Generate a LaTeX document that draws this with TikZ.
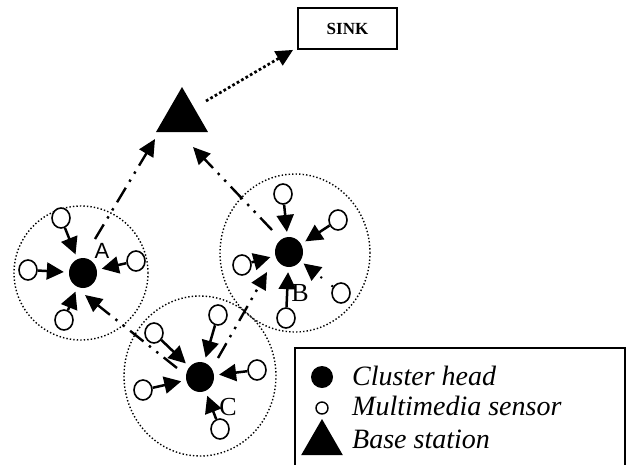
\documentclass[tikz,border=0pt]{standalone}
\usepackage{fontspec}
\setmainfont{Liberation Serif}
\newfontfamily\labsans{Liberation Sans}
\usetikzlibrary{arrows.meta,shapes.geometric,calc}
\begin{document}
\begin{tikzpicture}[x=1pt,y=-1pt,
 cluster/.style={draw, ellipse, line width=1.4pt, dash pattern=on 1.4pt off 2.1pt, inner sep=0pt, outer sep=0pt},
 head/.style={ellipse, fill=black, minimum width=28pt, minimum height=30pt, inner sep=0pt},
 sensor/.style={ellipse, draw, fill=white, line width=1.6pt, minimum width=18pt, minimum height=20pt, inner sep=0pt},
 sarrow/.style={line width=2.5pt, -{Triangle[length=17pt,width=17pt]}, shorten >=5pt},
 sdotarrow/.style={line width=2pt, dash pattern=on 2pt off 12pt, -{Triangle[length=17pt,width=17pt]}, shorten >=4pt},
 ddash/.style={line width=2.4pt, dash pattern=on 17pt off 7pt on 2.4pt off 7pt on 2.4pt off 7pt, -{Triangle[length=17pt,width=16pt]}},
 bstri/.style={regular polygon, regular polygon sides=3, fill=black, inner sep=0pt, outer sep=0pt},
 lbl/.style={font=\fontsize{26}{28}\selectfont, inner sep=0pt, anchor=base},
 legtext/.style={anchor=base west, font=\itshape\fontsize{28}{30}\selectfont, inner sep=0pt},
 ]
\path[use as bounding box] (0,0) rectangle (628,464);

% clusters
\node[cluster, minimum width=134pt, minimum height=134pt] (cA) at (81,273) {};
\node[cluster, minimum width=150pt, minimum height=158pt] (cB) at (295,253) {};
\node[cluster, minimum width=152pt, minimum height=160pt] (cC) at (200,376) {};

% base station and sink
\node[bstri, minimum size=60pt] (BS) at (182,117) {};
\node[draw, line width=1.8pt, minimum width=99pt, minimum height=41pt, inner sep=0pt,
      font=\bfseries\fontsize{17}{18}\selectfont] (SINK) at (347.5,28.5) {SINK};

% cluster heads
\node[head] (A) at (83,273) {};
\node[head] (B) at (289,252) {};
\node[head] (C) at (200,377) {};

% inter-cluster links
\draw[ddash] ([shift={(12,-34)}]A.center) -- ([shift={(-27,22)}]BS.center);
\draw[ddash] ([shift={(-17,-22)}]B.center) -- ([shift={(11,30)}]BS.center);
\draw[ddash] ([shift={(-23,-9)}]C.center) -- ([shift={(2,22)}]A.center);
\draw[ddash] ([shift={(18,-19)}]C.center) -- ([shift={(-22,20)}]B.center);
\draw[line width=2.7pt, dash pattern=on 2.7pt off 2.4pt, -{Triangle[length=17pt,width=16pt]}]
  ([shift={(24,-16)}]BS.center) -- ([shift={(-4,0)}]SINK.south west);

% sensors of A
\node[sensor] (sA1) at (61,218) {};
\node[sensor] (sA2) at (28,270) {};
\node[sensor] (sA3) at (136,261) {};
\node[sensor] (sA4) at (64,320) {};
% sensors of B
\node[sensor] (sB1) at (283,194) {};
\node[sensor] (sB2) at (338,220) {};
\node[sensor] (sB3) at (242,265) {};
\node[sensor] (sB4) at (286,318) {};
\node[sensor] (sB5) at (341,293) {};
% sensors of C
\node[sensor] (sC1) at (218,315) {};
\node[sensor] (sC2) at (154,333) {};
\node[sensor] (sC3) at (143,390) {};
\node[sensor] (sC4) at (257,370) {};
\node[sensor] (sC5) at (220,429) {};

\foreach \s in {sA1,sA2,sA3,sA4} \draw[sarrow] (\s) -- (A);
\foreach \s in {sB1,sB2,sB3,sB4} \draw[sarrow] (\s) -- (B);
\draw[sdotarrow] (sB5) -- (B);
\foreach \s in {sC1,sC2,sC3,sC4,sC5} \draw[sarrow] (\s) -- (C);

% labels
\node[font=\labsans\fontsize{22}{23}\selectfont, anchor=base, inner sep=0pt] (lA) at (102,258) {A};
\node[lbl] (lB) at (300,301) {B};
\node[lbl] (lC) at (228,415) {C};

% legend
\draw[line width=1.8pt] (295,466) -- (295,348) -- (625,348) -- (625,466);
\node[circle, fill=black, minimum size=22pt, inner sep=0pt] (lgH) at (322,377) {};
\node[circle, draw, line width=1.4pt, minimum size=12pt, inner sep=0pt] (lgS) at (322,408) {};
\node[bstri, minimum size=48pt] (lgT) at (322,443) {};
\node[legtext] (tH) at (352,385) {Cluster head};
\node[legtext] (tS) at (352,415) {Multimedia sensor};
\node[legtext] (tT) at (352,448) {Base station};
\end{tikzpicture}
\end{document}
